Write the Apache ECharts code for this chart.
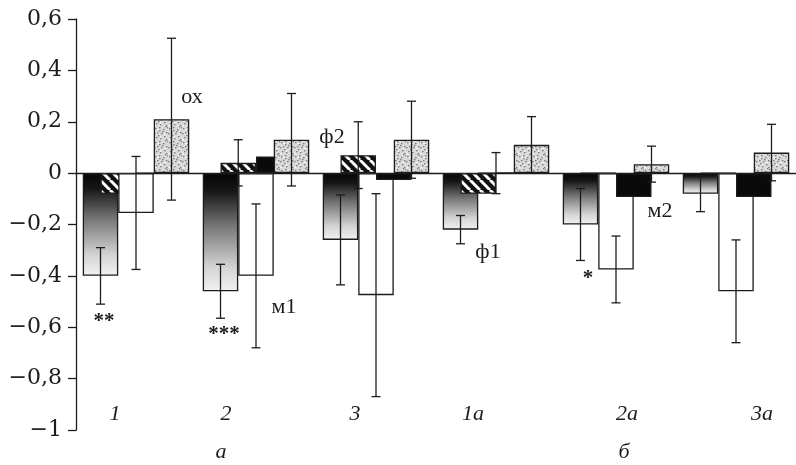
<!DOCTYPE html>
<html>
<head>
<meta charset="utf-8">
<title>chart</title>
<script src="https://cdn.jsdelivr.net/npm/echarts/dist/echarts.min.js"></script>
<style>
    html, body { margin: 0; padding: 0; background: #fff; }
    #chart { width: 796px; height: 465px; }
</style>
</head>
<body>
<div id="chart"></div>
<script>
// группы
var groups = ['1', '2', '3', '1а', '2а', '3а'];
var subGroups = ['а', 'б'];
var yTicks = [-1, -0.8, -0.6, -0.4, -0.2, 0, 0.2, 0.4, 0.6];

// средние значения
var f1 = [-0.40, -0.46, -0.26, -0.22, -0.20, -0.08];
var f2 = [-0.08, 0.04, 0.07, -0.08, 0, 0];
var m1 = [-0.155, -0.40, -0.475, 0, -0.375, -0.46];
var m2 = [0, 0.065, -0.027, 0, -0.093, -0.093];
var ox = [0.21, 0.13, 0.13, 0.11, 0.035, 0.08];

// ошибки
var f1Err = [0.11, 0.105, 0.175, 0.055, 0.14, 0.07];
var f2Err = [0, 0.09, 0.13, 0, 0, 0];
var m1Err = [0.22, 0.28, 0.395, 0.08, 0.13, 0.2];
var m2Err = [0, 0, 0, 0, 0, 0];
var oxErr = [0.315, 0.18, 0.15, 0.11, 0.07, 0.11];

// подписи
var seriesNames = ['ф1', 'ф2', 'м1', 'м2', 'ох'];
var stars = ['**', '***', '*'];

var BAR_W = 35.5;
var INK = '#1c1c1c';
var FONT = '"Liberation Serif", "DejaVu Serif", serif';

function hatchPattern(){
    var c = document.createElement('canvas');
    c.width = 10; c.height = 10;
    var ctx = c.getContext('2d');
    ctx.fillStyle = '#111';
    ctx.fillRect(0, 0, 10, 10);
    ctx.strokeStyle = '#fff';
    ctx.lineWidth = 3;
    for (var x0 = -10; x0 <= 10; x0 += 10) {
        ctx.beginPath();
        ctx.moveTo(x0, 0);
        ctx.lineTo(x0 + 10, 10);
        ctx.stroke();
    }
    return {image: c, repeat: 'repeat'};
}

function stipplePattern(){
    var c = document.createElement('canvas');
    c.width = 14; c.height = 14;
    var ctx = c.getContext('2d');
    ctx.fillStyle = '#dadada';
    ctx.fillRect(0, 0, 14, 14);
    var dots = [[1,2],[5,1],[9,3],[12,6],[3,6],[7,7],[10,10],[2,11],[6,12],[12,13],[4,9],[8,5],[13,1],[0,7],[11,0],[5,4]];
    ctx.fillStyle = '#7c7c7c';
    for (var i = 0; i < dots.length; i++) {
        ctx.fillRect(dots[i][0], dots[i][1], 1.5, 1.3);
    }
    ctx.fillStyle = '#f6f6f6';
    ctx.fillRect(3, 3, 2, 1);
    ctx.fillRect(10, 8, 2, 1);
    ctx.fillRect(6, 10, 1, 2);
    ctx.fillRect(0, 13, 2, 1);
    return {image: c, repeat: 'repeat'};
}

function barSeries(name, data, color){
    return {
        name: name,
        type: 'bar',
        data: data,
        barWidth: BAR_W,
        barGap: '-50%',
        itemStyle: {
            color: color,
            borderColor: INK,
            borderWidth: 1.3
        }
    };
}

function errData(){
    var all = [f1Err, f2Err, m1Err, m2Err, oxErr];
    var vals = [f1, f2, m1, m2, ox];
    var out = [];
    for (var k = 0; k < all.length; k++) {
        for (var i = 0; i < groups.length; i++) {
            if (all[k][i] > 0) {
                out.push([i, vals[k][i], all[k][i], k]);
            }
        }
    }
    return out;
}

function renderErr(params, api){
    var cat = api.value(0), v = api.value(1), e = api.value(2), k = api.value(3);
    var x = api.coord([cat, v])[0] + (k - 2) * BAR_W / 2;
    var hi = api.coord([cat, v + e])[1];
    var lo = api.coord([cat, v - e])[1];
    var st = {stroke: INK, lineWidth: 1.3};
    return {
        type: 'group',
        children: [
            {type: 'line', shape: {x1: x, y1: hi, x2: x, y2: lo}, style: st},
            {type: 'line', shape: {x1: x - 4.5, y1: hi, x2: x + 4.5, y2: hi}, style: st},
            {type: 'line', shape: {x1: x - 4.5, y1: lo, x2: x + 4.5, y2: lo}, style: st}
        ]
    };
}

function txt(text, x, y, size, italic, bold){
    return {
        type: 'text',
        x: x,
        y: y,
        z: 10,
        style: {
            text: text,
            fill: INK,
            font: (italic ? 'italic ' : '') + (bold ? 'bold ' : '') + size + 'px ' + FONT,
            textAlign: 'center',
            textVerticalAlign: 'middle'
        }
    };
}

function buildGraphic(){
    var g = [];
    var groupX = [115, 226, 355, 473, 627, 762];
    for (var i = 0; i < groups.length; i++) {
        g.push(txt(groups[i], groupX[i], 414, 22, true));
    }
    g.push(txt(subGroups[0], 221, 452, 22, true));
    g.push(txt(subGroups[1], 624, 452, 22, true));

    // подписи рядов у столбиков
    g.push(txt(seriesNames[4], 192, 97, 22));
    g.push(txt(seriesNames[1], 332, 137, 22));
    g.push(txt(seriesNames[0], 488, 252, 22));
    g.push(txt(seriesNames[2], 284, 307, 22));
    g.push(txt(seriesNames[3], 660, 211, 22));

    g.push(txt(stars[0], 104, 322, 21, false, true));
    g.push(txt(stars[1], 224, 335, 21, false, true));
    g.push(txt(stars[2], 588, 279, 21, false, true));
    return g;
}

var f1Grad = new echarts.graphic.LinearGradient(0, 0, 0, 1, [
    {offset: 0, color: '#050505'},
    {offset: 0.15, color: '#161616'},
    {offset: 0.45, color: '#777'},
    {offset: 0.8, color: '#d4d4d4'},
    {offset: 1, color: '#f2f2f2'}
]);

var option = {
    animation: false,
    backgroundColor: '#fff',
    grid: {
        left: 76,
        top: 19,
        width: 724,
        height: 411
    },
    xAxis: {
        type: 'category',
        data: groups,
        axisLine: {onZero: true, lineStyle: {color: INK, width: 1.3}},
        axisTick: {show: false},
        axisLabel: {show: false},
        splitLine: {show: false}
    },
    yAxis: {
        type: 'value',
        min: yTicks[0],
        max: yTicks[yTicks.length - 1],
        interval: 0.2,
        axisLine: {show: true, lineStyle: {color: INK, width: 1.3}},
        axisTick: {show: true, length: 8, inside: false, lineStyle: {color: INK, width: 1.3}},
        splitLine: {show: false},
        axisLabel: {
            margin: 14,
            color: INK,
            fontSize: 22,
            fontFamily: '"DejaVu Serif", serif',
            formatter: function(v){
                var s = String(Math.round(v * 10) / 10);
                return s.replace('.', ',').replace('-', '\u2212');
            }
        }
    },
    series: [
        barSeries(seriesNames[0], f1, f1Grad),
        barSeries(seriesNames[1], f2, hatchPattern()),
        barSeries(seriesNames[2], m1, '#fff'),
        barSeries(seriesNames[3], m2, '#0a0a0a'),
        barSeries(seriesNames[4], ox, stipplePattern()),
        {
            type: 'custom',
            renderItem: renderErr,
            data: errData(),
            z: 5,
            silent: true
        }
    ],
    graphic: buildGraphic()
};

var myChart = echarts.init(document.getElementById('chart'));
myChart.setOption(option);
</script>
</body>
</html>
